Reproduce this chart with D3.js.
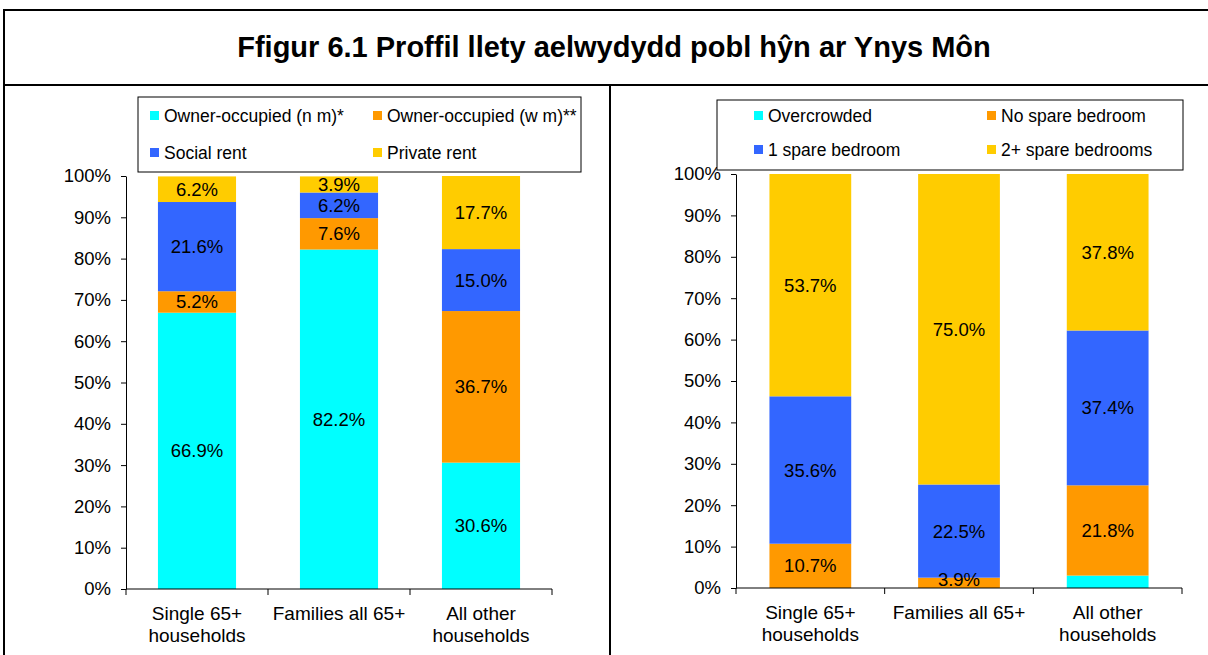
<!DOCTYPE html>
<html><head><meta charset="utf-8">
<script src="https://cdn.jsdelivr.net/npm/d3@7"></script>
<style>body{margin:0;background:#fff}svg{display:block;font-family:"Liberation Sans",Arial,sans-serif}</style>
</head><body>
<svg id="c" width="1208" height="655"></svg>
<script>
const title = "Ffigur 6.1 Proffil llety aelwydydd pobl hŷn ar Ynys Môn";
const categories = [["Single 65+","households"],["Families all 65+"],["All other","households"]];
const yTicks = [0,10,20,30,40,50,60,70,80,90,100];
const colors = ["#00FFFF","#FF9900","#3366FF","#FFCC00"];

// Left chart: tenure
const tenureSeries = ["Owner-occupied (n m)*","Owner-occupied (w m)**","Social rent","Private rent"];
const ownerNoMortgage = [66.9, 82.2, 30.6];
const ownerWithMortgage = [5.2, 7.6, 36.7];
const socialRent = [21.6, 6.2, 15.0];
const privateRent = [6.2, 3.9, 17.7];
const tenureLabels = [
  ["66.9%","82.2%","30.6%"],
  ["5.2%","7.6%","36.7%"],
  ["21.6%","6.2%","15.0%"],
  ["6.2%","3.9%","17.7%"]
];

// Right chart: occupancy
const occupancySeries = ["Overcrowded","No spare bedroom","1 spare bedroom","2+ spare bedrooms"];
const overcrowded = [0, 0, 3.0];
const noSpare = [10.7, 2.5, 21.8];
const oneSpare = [35.6, 22.5, 37.4];
const twoPlusSpare = [53.7, 75.0, 37.8];
const occupancyLabels = [
  [null, null, null],
  ["10.7%","3.9%","21.8%"],
  ["35.6%","22.5%","37.4%"],
  ["53.7%","75.0%","37.8%"]
];

const svg = d3.select("#c");

// frame
svg.append("rect").attr("x",4).attr("y",10).attr("width",1214).attr("height",660)
  .attr("fill","none").attr("stroke","#000").attr("stroke-width",2);
svg.append("line").attr("x1",4).attr("x2",1208).attr("y1",85).attr("y2",85).attr("stroke","#000").attr("stroke-width",2);
svg.append("line").attr("x1",610).attr("x2",610).attr("y1",85).attr("y2",655).attr("stroke","#000").attr("stroke-width",2);
svg.append("text").attr("x",614).attr("y",57).attr("text-anchor","middle")
  .attr("font-size",29).attr("font-weight","bold").text(title);

function drawChart(cfg){
  const series = cfg.series;
  const data = categories.map((c,i)=>{
    const o = {cat:i};
    series.forEach((s,k)=>o[k]=cfg.values[k][i]);
    return o;
  });
  const keys = series.map((s,k)=>k);
  const stacked = d3.stack().keys(keys)(data);
  const x = d3.scaleBand().domain(categories.map((c,i)=>i)).range([cfg.x0,cfg.x1]).paddingInner(0).paddingOuter(0);
  const y = d3.scaleLinear().domain([0,100]).range([cfg.y0,cfg.y1]);
  const bw = x.bandwidth()*cfg.barFrac;
  const g = svg.append("g");

  stacked.forEach((layer,k)=>{
    g.selectAll(null).data(layer).enter().append("rect")
      .attr("x",(d,i)=>x(i)+(x.bandwidth()-bw)/2)
      .attr("width",bw)
      .attr("y",d=>y(Math.min(d[1],100)))
      .attr("height",d=>Math.max(0,y(d[0])-y(Math.min(d[1],100))))
      .attr("fill",colors[k]);
  });
  stacked.forEach((layer,k)=>{
    g.selectAll(null).data(layer).enter().filter((d,i)=>cfg.labels[k][i]!==null)
      .append("text")
      .attr("x",(d,i)=>x(i)+x.bandwidth()/2)
      .attr("y",(d,i)=>{
        const lab = cfg.labels[k][i];
        const top = d[0] + Math.max(d[1]-d[0], parseFloat(lab));
        return y((d[0]+Math.min(top,100))/2)+6.5;
      })
      .attr("text-anchor","middle").attr("font-size",18.5).attr("fill","#000")
      .text((d,i)=>cfg.labels[k][i]);
  });

  // y axis
  const ya = d3.axisLeft(y).tickValues(yTicks).tickFormat(d=>d+"%").tickSize(5).tickSizeOuter(0);
  const yg = g.append("g").attr("transform",`translate(${cfg.x0},0)`).call(ya);
  yg.select(".domain").attr("stroke","#000");
  yg.selectAll(".tick line").attr("stroke","#000");
  yg.selectAll(".tick text").attr("font-size",18.5).attr("fill","#000").attr("x",-15).attr("font-family","Liberation Sans, Arial, sans-serif");

  // x axis
  g.append("line").attr("x1",cfg.x0).attr("x2",cfg.x1).attr("y1",cfg.y0).attr("y2",cfg.y0).attr("stroke","#000");
  const bounds = categories.map((c,i)=>x(i)).concat([cfg.x1]);
  bounds.forEach(b=>g.append("line").attr("x1",b).attr("x2",b).attr("y1",cfg.y0).attr("y2",cfg.y0+6).attr("stroke","#000"));
  categories.forEach((lines,i)=>{
    const t = g.append("text").attr("text-anchor","middle").attr("font-size",19).attr("fill","#000");
    lines.forEach((ln,j)=>t.append("tspan").attr("x",x(i)+x.bandwidth()/2).attr("y",cfg.y0+31+j*22).text(ln));
  });

  // legend
  const L = cfg.legend;
  g.append("rect").attr("x",L.x).attr("y",L.y).attr("width",L.w).attr("height",L.h)
    .attr("fill","#fff").attr("stroke","#000").attr("stroke-width",1);
  series.forEach((s,k)=>{
    const col = k%2, row = Math.floor(k/2);
    const sx = L.cols[col], sy = L.rows[row];
    g.append("rect").attr("x",sx).attr("y",sy-5).attr("width",9).attr("height",9).attr("fill",colors[k]);
    g.append("text").attr("x",sx+14).attr("y",sy+6).attr("font-size",17.5).attr("fill","#000").text(s);
  });
}

drawChart({
  series: tenureSeries,
  values: [ownerNoMortgage, ownerWithMortgage, socialRent, privateRent],
  labels: tenureLabels,
  x0:126, x1:552, y0:589, y1:176, barFrac:0.55,
  legend:{x:138,y:97,w:443,h:75,cols:[150,373],rows:[116,153]}
});
drawChart({
  series: occupancySeries,
  values: [overcrowded, noSpare, oneSpare, twoPlusSpare],
  labels: occupancyLabels,
  x0:736, x1:1182, y0:588, y1:174, barFrac:0.55,
  legend:{x:717,y:100,w:466,h:70,cols:[754,987],rows:[116,150]}
});
</script>
</body></html>
